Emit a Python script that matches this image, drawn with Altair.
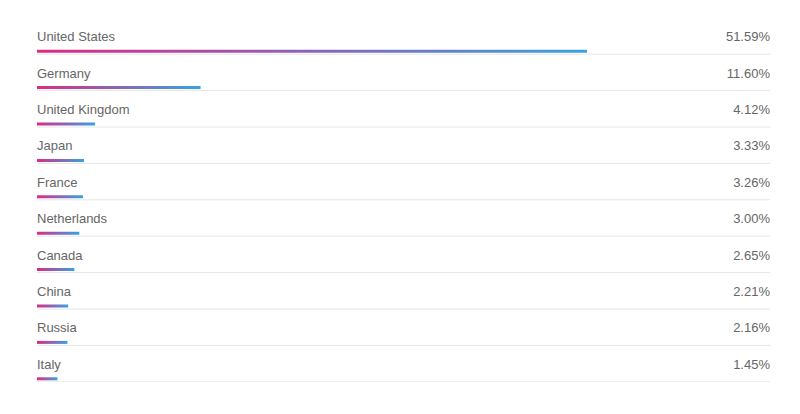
import altair as alt
import pandas as pd

countries = ["United States", "Germany", "United Kingdom", "Japan", "France",
             "Netherlands", "Canada", "China", "Russia", "Italy"]
shares = [51.59, 11.60, 4.12, 3.33, 3.26, 3.00, 2.65, 2.21, 2.16, 1.45]
labels = ["51.59%", "11.60%", "4.12%", "3.33%", "3.26%", "3.00%", "2.65%",
          "2.21%", "2.16%", "1.45%"]

df = pd.DataFrame({"country": countries, "share": shares, "label": labels})

W = 733
H = 364
FONT = "Liberation Sans"
TXT = "#666666"

y_enc = alt.Y("country:N", sort=countries, axis=None,
              scale=alt.Scale(paddingInner=0, paddingOuter=0))

base = alt.Chart(df)

sep = base.mark_rule(color="#e6e6e6", strokeWidth=1, yOffset=18).encode(
    y=y_enc, x=alt.value(0), x2=alt.value(W)
)

grad = alt.Gradient(
    gradient="linear",
    stops=[alt.GradientStop(color="#dd2a86", offset=0),
           alt.GradientStop(color="#38a2e2", offset=1)],
    x1=0, x2=1, y1=0, y2=0,
)

bars = base.mark_bar(color=grad, size=3, yOffset=15, cornerRadius=0).encode(
    y=y_enc,
    x=alt.X("share:Q", axis=None,
            scale=alt.Scale(domain=[0, 39], range=[0, 550], clamp=True)),
)

names = base.mark_text(align="left", baseline="middle", font=FONT,
                       fontSize=13, color=TXT, dy=1).encode(
    y=y_enc, x=alt.value(0), text="country:N"
)

pct = base.mark_text(align="right", baseline="middle", font=FONT,
                     fontSize=13, color=TXT, dy=1).encode(
    y=y_enc, x=alt.value(W), text="label:N"
)

chart = alt.layer(sep, bars, names, pct).properties(
    width=W, height=H,
    padding={"left": 29, "top": 10, "right": 0, "bottom": 0},
    autosize="none",
    background="white",
).configure_view(stroke=None)

chart.save("out.html", embed_options={"renderer": "svg", "actions": False})
